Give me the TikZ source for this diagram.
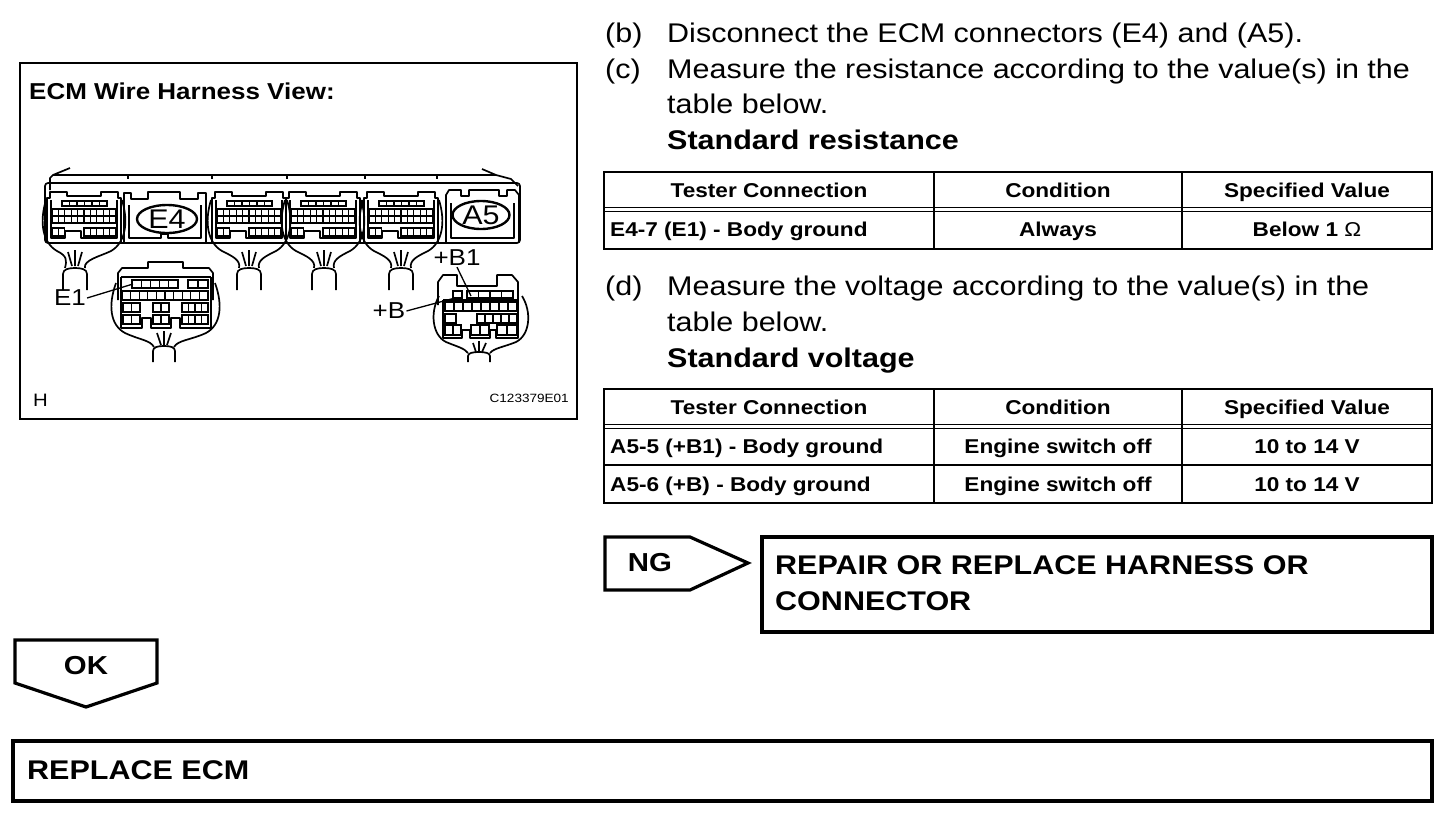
\documentclass[tikz,border=0pt]{standalone}
\usepackage{fontspec}
\setmainfont{Liberation Sans}[FakeStretch=1.13]
\usetikzlibrary{shapes.geometric}
\newcommand{\myfs}[1]{\fontsize{#1}{#1}\selectfont}
\tikzset{
 cl/.style={line width=1.7pt, line join=round},
 pl/.style={line width=1.3pt},
 frm/.style={line width=2.2pt},
 tbl/.style={line width=2pt},
 dbl/.style={line width=1.5pt},
 bx/.style={line width=3.2pt, line join=miter},
 txt/.style={inner sep=0pt, anchor=base west, font=\myfs{27}},
 btxt/.style={inner sep=0pt, anchor=base west, font=\bfseries\myfs{27}},
 th/.style={inner sep=0pt, anchor=base, font=\bfseries\myfs{20}},
 tdl/.style={inner sep=0pt, anchor=base west, font=\bfseries\myfs{20}},
 lab/.style={inner sep=1pt, font=\myfs{23}},
 oval/.style={draw, ellipse, line width=2.4pt, inner sep=0pt, minimum width=60pt, minimum height=28pt, font=\myfs{27}},
 pics/pinconn/.style={code={
  \draw[cl] (0,54) -- (0,10) -- (3,10) -- (3,4) -- (20,4) -- (20,8) -- (54,8) -- (54,4) -- (71,4) -- (71,10) -- (74,10) -- (74,54);
  \draw[cl] (4,12) -- (4,50) -- (18,50) -- (18,43) -- (34,43) -- (34,50) -- (70,50) -- (70,12);
  \foreach \i in {0,...,5} \draw[pl] (15+\i*7.5,13) rectangle ++(7.5,5);
  \foreach \i in {0,...,9} \draw[pl] (5+\i*6.4,21) rectangle ++(6.4,7);
  \foreach \i in {0,...,9} \draw[pl] (5+\i*6.4,28) rectangle ++(6.4,7);
  \foreach \i in {0,1} \draw[pl] (5+\i*6.4,40) rectangle ++(6.4,8);
  \foreach \i in {0,...,4} \draw[pl] (37+\i*6.4,40) rectangle ++(6.4,8);
  \draw[cl] (-1,12) .. controls (-8,35) and (-4,55) .. (10,63) .. controls (20,68) and (#1-8,72) .. (#1-10,80);
  \draw[cl] (75,12) .. controls (82,35) and (78,55) .. (64,63) .. controls (54,68) and (#1+8,72) .. (#1+10,80);
  \draw[cl] (#1-7,64) -- (#1-3,78) (#1,62) -- (#1,78) (#1+7,64) -- (#1+3,78);
  \draw[cl] (#1-12,102) -- (#1-12,86) .. controls (#1-12,81) and (#1-6,80) .. (#1,80) .. controls (#1+6,80) and (#1+12,81) .. (#1+12,86) -- (#1+12,102);
 }}
}
\begin{document}
\begin{tikzpicture}[x=1pt,y=-1pt]
\useasboundingbox (0,0) rectangle (1456,828);
\fill[white] (0,0) rectangle (1456,828);

% ---------- left picture panel ----------
\draw[frm] (20,63) rectangle (577,419);
\node[inner sep=0pt, anchor=base west, font=\bfseries\myfs{23}] (title) at (29,99) {ECM Wire Harness View:};
\node[inner sep=0pt, anchor=base west, font=\myfs{18}] (hlab) at (33,406) {H};
\node[inner sep=0pt, anchor=base east, font=\myfs{12}] (code) at (569,402) {C123379E01};

% ECM body
\draw[cl, rounded corners=3pt] (45,183) rectangle (520,243);
\draw[cl] (50,190) -- (50,178) -- (53,175) -- (496,175) -- (511,179) -- (518,186);
\draw[cl] (53,175) -- (70,168);
\draw[cl] (496,175) -- (482,169);
\foreach \x in {128,212,287,365,437} \draw[pl] (\x,175) -- (\x,179);

% pin connectors on ECM
\pic at (47,188) {pinconn=28};
\pic at (212,188) {pinconn=37};
\pic at (286,188) {pinconn=38};
\pic at (364,188) {pinconn=37};

% E4 housing
\draw[cl] (124,242) -- (124,193) -- (131,193) -- (131,199) -- (148,199) -- (148,192) -- (180,192) -- (180,199) -- (198,199) -- (198,193) -- (206,193) -- (206,242);
\draw[cl] (129,205) -- (129,238) -- (161,238) -- (161,234) -- (168,234) -- (168,238) -- (201,238) -- (201,205);
\node[oval] (e4) at (167,219) {E4};

% A5 housing
\draw[cl] (446,242) -- (446,195) -- (449,190) -- (461,190) -- (461,196) -- (469,196) -- (469,190) -- (499,190) -- (499,196) -- (507,196) -- (507,190) -- (515,190) -- (519,195) -- (519,242);
\draw[cl] (451,203) -- (451,238) -- (514,238) -- (514,203);
\node[oval, minimum width=57pt] (a5) at (481,215) {A5};

% E1 sub connector
\draw[cl] (118,300) -- (118,273) -- (122,268) -- (148,268) -- (148,262) -- (183,262) -- (183,268) -- (209,268) -- (213,273) -- (213,300);
\draw[cl] (121,277) -- (211,277);
\draw[cl] (121,277) -- (121,328) -- (142,328) -- (142,318) -- (151,318) -- (151,328) -- (171,328) -- (171,318) -- (180,318) -- (180,328) -- (211,328) -- (211,277);
\foreach \i in {0,...,4} \draw[pl] (132+\i*9.2,280) rectangle ++(9.2,8);
\foreach \i in {0,1} \draw[pl] (188+\i*10,280) rectangle ++(10,8);
\foreach \i in {0,...,9} \draw[pl] (122+\i*8.6,291) rectangle ++(8.6,9);
\foreach \yy in {303,315} {
  \foreach \i in {0,1} \draw[pl] (123+\i*8.5,\yy) rectangle ++(8.5,9);
  \foreach \i in {0,1} \draw[pl] (153+\i*8,\yy) rectangle ++(8,9);
  \foreach \i in {0,...,3} \draw[pl] (182+\i*6.5,\yy) rectangle ++(6.5,9);
}
\draw[cl] (116,283) .. controls (108,305) and (110,325) .. (125,333) .. controls (140,340) and (150,340) .. (154,347);
\draw[cl] (215,283) .. controls (223,305) and (221,325) .. (206,333) .. controls (191,340) and (178,340) .. (174,347);
\draw[cl] (157,333) -- (161,345) (164,331) -- (164,345) (171,333) -- (167,345);
\draw[cl] (153,362) -- (153,351) .. controls (153,347) and (158,346) .. (164,346) .. controls (170,346) and (175,347) .. (175,351) -- (175,362);

% +B sub connector
\draw[cl] (438,305) -- (438,282) -- (443,275) -- (457,275) -- (457,286) -- (497,286) -- (497,275) -- (512,275) -- (518,282) -- (518,305);
\draw[cl] (443,300) -- (518,300);
\draw[cl] (443,300) -- (443,338) -- (462,338) -- (462,330) -- (470,330) -- (470,338) -- (490,338) -- (490,330) -- (496,330) -- (496,338) -- (518,338) -- (518,300);
\draw[pl] (453,291) rectangle ++(9,7);
\foreach \i in {0,...,3} \draw[pl] (467+\i*11.5,291) rectangle ++(11.5,7);
\foreach \i in {0,...,7} \draw[pl] (445+\i*9,302) rectangle ++(9,9);
\draw[pl] (445,314) rectangle ++(11,9);
\foreach \i in {0,...,4} \draw[pl] (477+\i*8,314) rectangle ++(8,9);
\foreach \i in {0,1} \draw[pl] (445+\i*8,325) rectangle ++(8,10);
\foreach \i in {0,1} \draw[pl] (471+\i*9,325) rectangle ++(9,10);
\foreach \i in {0,1} \draw[pl] (497+\i*10,325) rectangle ++(10,10);
\draw[cl] (439,296) .. controls (430,312) and (432,335) .. (446,342) .. controls (458,347) and (464,348) .. (468,353);
\draw[cl] (522,296) .. controls (532,312) and (530,335) .. (516,342) .. controls (504,347) and (494,348) .. (490,353);
\draw[cl] (473,343) -- (476,352) (479,341) -- (479,352) (486,343) -- (482,352);
\draw[cl] (468,362) -- (468,356) .. controls (468,353) and (473,352) .. (479,352) .. controls (485,352) and (490,353) .. (490,356) -- (490,362);

% labels with leaders
\node[lab] (e1lab) at (70,298) {E1};
\coordinate (e1pin) at (133,284);
\draw[pl] (e1lab.east) -- (e1pin);
\node[lab] (b1lab) at (457,258) {+B1};
\coordinate (b1pin) at (471,296);
\draw[pl] (b1lab.south) -- (b1pin);
\node[lab] (blab) at (389,311) {+B};
\coordinate (bpin) at (455,298);
\draw[pl] (blab.east) -- (bpin);

% ---------- right text ----------
\node[txt] (lb) at (605,42) {(b)};
\node[txt] (tb) at (667,42) {Disconnect the ECM connectors (E4) and (A5).};
\node[txt] (lc) at (605,78) {(c)};
\node[txt] (tc1) at (667,78) {Measure the resistance according to the value(s) in the};
\node[txt] (tc2) at (667,113) {table below.};
\node[btxt] (tc3) at (667,149) {Standard resistance};
\node[txt] (ld) at (605,295) {(d)};
\node[txt] (td1) at (667,295) {Measure the voltage according to the value(s) in the};
\node[txt] (td2) at (667,331) {table below.};
\node[btxt] (td3) at (667,367) {Standard voltage};

% ---------- table 1 ----------
\draw[tbl] (604,172) rectangle (1432,249);
\draw[dbl] (604,207.5) -- (1432,207.5) (604,211.5) -- (1432,211.5);
\draw[tbl] (934,172) -- (934,249) (1182,172) -- (1182,249);
\node[th] (t1h1) at (769,197) {Tester Connection};
\node[th] (t1h2) at (1058,197) {Condition};
\node[th] (t1h3) at (1307,197) {Specified Value};
\node[tdl] (t1r1) at (610,236) {E4-7 (E1) - Body ground};
\node[th] (t1r2) at (1058,236) {Always};
\node[th] (t1r3) at (1307,236) {Below 1 {\mdseries Ω}};

% ---------- table 2 ----------
\draw[tbl] (604,389) rectangle (1432,503);
\draw[dbl] (604,424.5) -- (1432,424.5) (604,428.5) -- (1432,428.5);
\draw[tbl] (604,465) -- (1432,465);
\draw[tbl] (934,389) -- (934,503) (1182,389) -- (1182,503);
\node[th] (t2h1) at (769,414) {Tester Connection};
\node[th] (t2h2) at (1058,414) {Condition};
\node[th] (t2h3) at (1307,414) {Specified Value};
\node[tdl] (t2r1) at (610,453) {A5-5 (+B1) - Body ground};
\node[th] (t2r2) at (1058,453) {Engine switch off};
\node[th] (t2r3) at (1307,453) {10 to 14 V};
\node[tdl] (t2s1) at (610,491) {A5-6 (+B) - Body ground};
\node[th] (t2s2) at (1058,491) {Engine switch off};
\node[th] (t2s3) at (1307,491) {10 to 14 V};

% ---------- NG branch ----------
\draw[bx] (605,537) -- (690,537) -- (748,563) -- (690,590) -- (605,590) -- cycle;
\node[inner sep=0pt, font=\bfseries\myfs{26}] (ng) at (650,563) {NG};
\draw[bx] (762,537) rectangle (1432,632);
\node[btxt] (rep1) at (775,574) {REPAIR OR REPLACE HARNESS OR};
\node[btxt] (rep2) at (775,610) {CONNECTOR};

% ---------- OK branch ----------
\draw[bx] (15,640) -- (157,640) -- (157,683) -- (86,707) -- (15,683) -- cycle;
\node[inner sep=0pt, font=\bfseries\myfs{26}] (ok) at (86,666) {OK};
\draw[bx] (13,741) rectangle (1432,801);
\node[btxt] (ecm) at (27,779) {REPLACE ECM};
\end{tikzpicture}
\end{document}
